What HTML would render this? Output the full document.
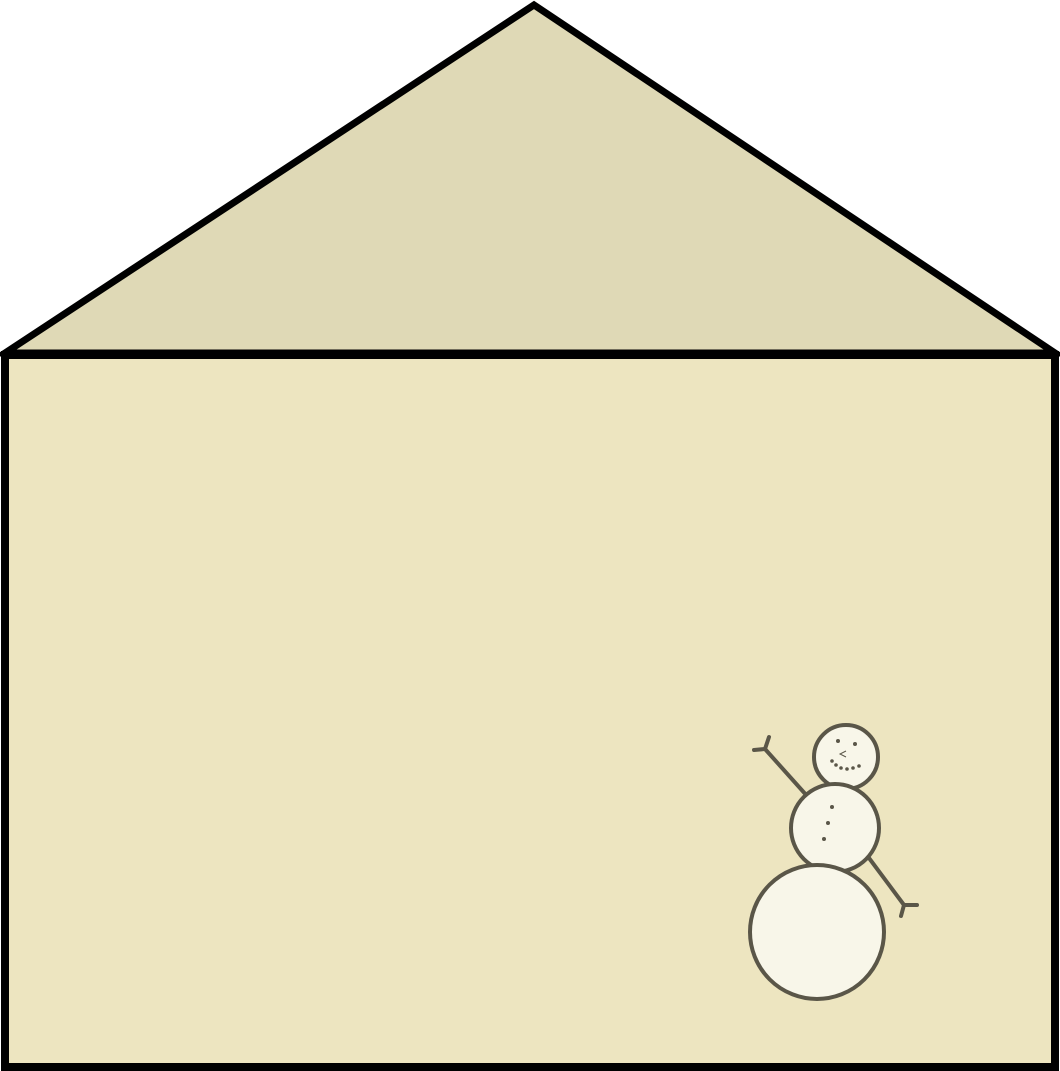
<!DOCTYPE html>
<html><head><meta charset="utf-8"><style>html,body{margin:0;padding:0;background:#fff;}svg{display:block}</style></head>
<body>
<svg width="1060" height="1071" viewBox="0 0 1060 1071">
<polygon points="5,353 534,5 1055,353" fill="#dfd9b6" stroke="#000" stroke-width="7" stroke-linejoin="miter"/>
<rect x="5" y="355" width="1050" height="712" fill="#ede5c0" stroke="#000" stroke-width="8"/>
<g stroke="#5a5648" stroke-width="4" fill="#f8f6e9" stroke-linecap="round">
<line x1="808" y1="797" x2="765" y2="749"/>
<line x1="754" y1="750" x2="765" y2="749"/>
<line x1="765" y1="749" x2="769" y2="737"/>
<line x1="866" y1="854" x2="904" y2="905"/>
<line x1="904" y1="905" x2="917" y2="905"/>
<line x1="904" y1="905" x2="901" y2="916"/>
<circle cx="846" cy="757" r="32"/>
<circle cx="835" cy="828" r="44"/>
<circle cx="817" cy="932" r="67"/>
</g>
<g fill="#5a5648">
<circle cx="838" cy="741" r="2"/><circle cx="855" cy="744" r="2"/>
<circle cx="832" cy="761" r="1.8"/><circle cx="836" cy="765" r="1.8"/><circle cx="841" cy="768" r="1.8"/><circle cx="847" cy="769" r="1.8"/><circle cx="853" cy="768" r="1.8"/><circle cx="859" cy="766" r="1.8"/>
<circle cx="832" cy="807" r="2"/><circle cx="828" cy="823" r="2"/><circle cx="824" cy="839" r="2"/>
</g>
<polyline points="846,751 840,754 846,757" fill="none" stroke="#5a5648" stroke-width="1"/>
</svg>
</body></html>
